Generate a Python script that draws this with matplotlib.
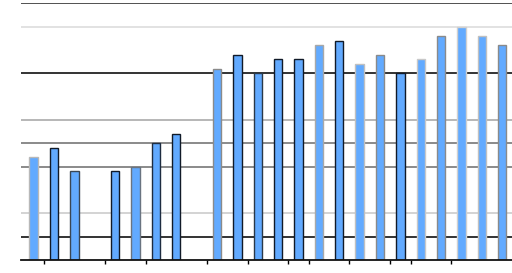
import numpy as np
import matplotlib
matplotlib.use("Agg")
import matplotlib.pyplot as plt

# slot index of each bar (slots 3 and 8 are empty)
slots = [0, 1, 2, 4, 5, 6, 7, 9, 10, 11, 12, 13, 14, 15, 16, 17, 18, 19, 20, 21, 22, 23]
values = [4.4, 4.8, 3.8, 3.8, 4.0, 5.0, 5.4, 8.2, 8.8, 8.0, 8.6, 8.6,
          9.2, 9.4, 8.4, 8.8, 8.0, 8.6, 9.6, 10.0, 9.6, 9.2]
edges = ['#b8b8b8', '#111a28', '#3a4654', '#111a28', '#6a7480', '#1e2c40', '#111a28',
         '#8a8a8a', '#111a28', '#2a3848', '#111a28', '#111a28', '#a8a8a8', '#111a28',
         '#c0c0c0', '#8a8a8a', '#111a28', '#c8c8c8', '#8a8a8a', '#d0d0d0', '#c0c0c0', '#8a8a8a']

# horizontal rules: level, colour
grid_levels = [1, 2, 4, 5, 6, 8, 10, 11]
grid_colors = ['#111111', '#cccccc', '#777777', '#777777', '#aaaaaa', '#111111', '#dddddd', '#333333']

tick_pos = [0.5, 3.5, 5.5, 8.5, 10.5, 12.5, 13.5, 15.5, 17.5, 18.5, 20.5]
tick_dark = [True, True, False, False, True, True, False, True, True, False, True]

fig = plt.figure(figsize=(5.12, 2.73), dpi=100)
ax = fig.add_axes([21 / 512, 13 / 273, 491 / 512, 256.7 / 273])

for lev, col in zip(grid_levels, grid_colors):
    ax.axhline(lev, color=col, lw=1.2, zorder=1)

ax.bar(slots, values, width=0.41, color='#62aaff', edgecolor=edges, linewidth=1.0, zorder=2)

ax.set_xlim(-0.62, 23.48)
ax.set_ylim(0, 11)
for s in ['top', 'right', 'left']:
    ax.spines[s].set_visible(False)
ax.spines['bottom'].set_color('#111111')
ax.spines['bottom'].set_linewidth(1.3)
ax.set_yticks([])
ax.set_xticks(tick_pos)
ax.set_xticklabels([])
ax.tick_params(axis='x', length=3, width=1)
for t, dark in zip(ax.xaxis.get_major_ticks(), tick_dark):
    t.tick1line.set_color('#555555' if dark else '#cccccc')

fig.savefig('out.png', dpi=100)
